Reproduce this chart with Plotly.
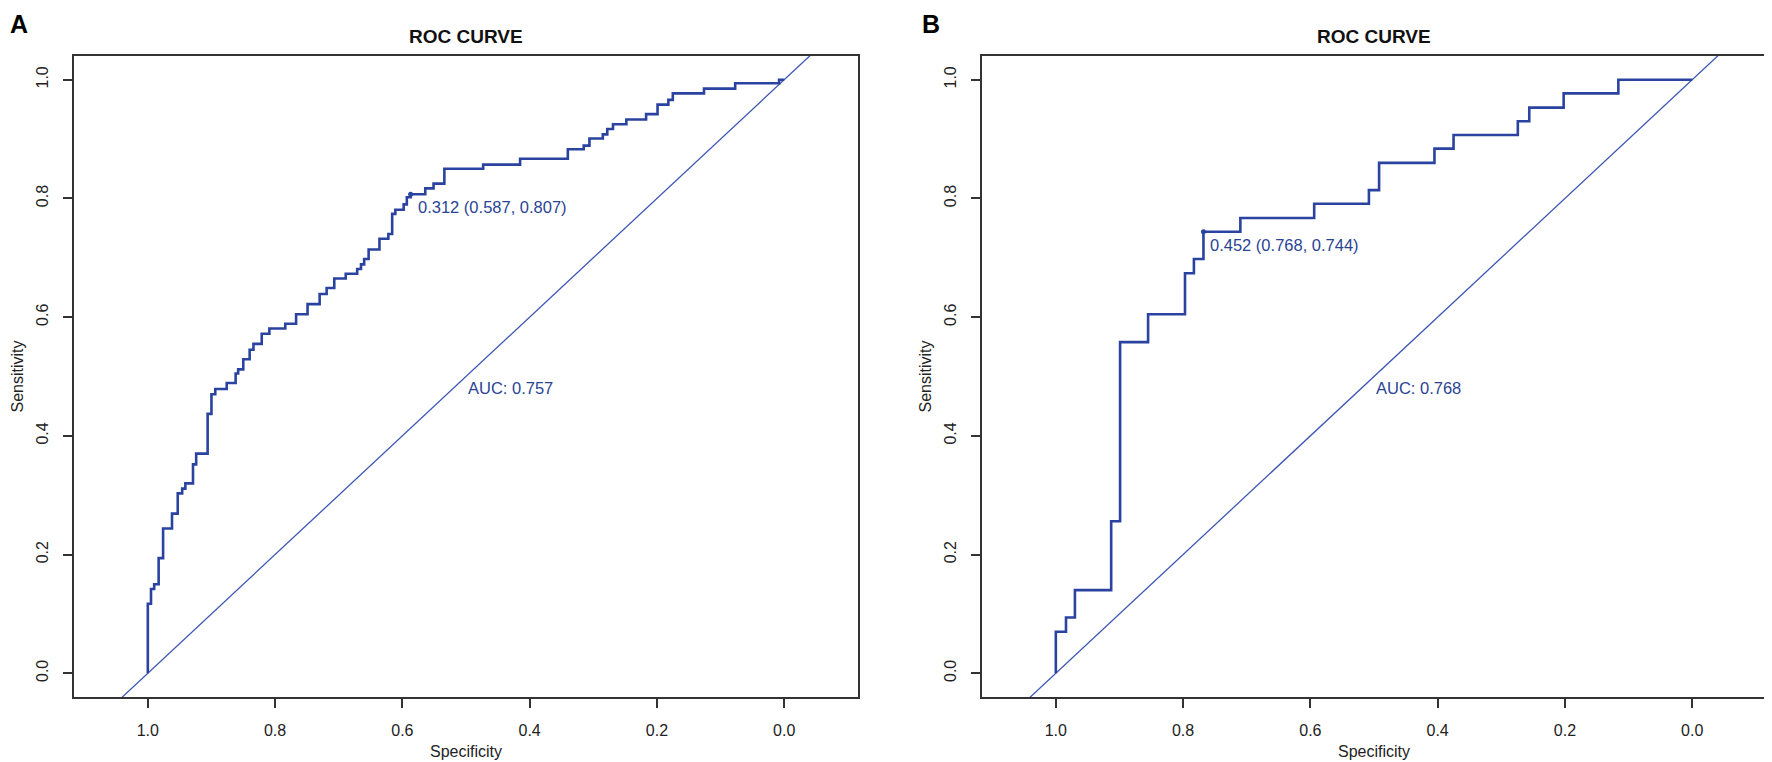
import plotly.graph_objects as go

# ROC curve A (step vertices: specificity where the curve rises, sensitivity after rise)
spec_a = [1.0, 1.0, 0.995, 0.990, 0.983, 0.976, 0.962, 0.953, 0.946, 0.941, 0.929, 0.924,
          0.906, 0.900, 0.894, 0.876, 0.862, 0.858, 0.850, 0.840, 0.834, 0.821, 0.809,
          0.784, 0.767, 0.749, 0.730, 0.719, 0.707, 0.689, 0.671, 0.665, 0.660, 0.653,
          0.636, 0.622, 0.616, 0.611, 0.598, 0.593, 0.587, 0.564, 0.551, 0.534, 0.473,
          0.415, 0.340, 0.315, 0.306, 0.285, 0.278, 0.269, 0.248, 0.217, 0.199, 0.182,
          0.175, 0.126, 0.077, 0.008, 0.0]
sens_a = [0.0, 0.117, 0.142, 0.150, 0.194, 0.244, 0.269, 0.303, 0.311, 0.320, 0.352, 0.370,
          0.437, 0.470, 0.479, 0.489, 0.505, 0.512, 0.529, 0.545, 0.555, 0.572, 0.581,
          0.589, 0.605, 0.622, 0.639, 0.649, 0.665, 0.673, 0.681, 0.689, 0.698, 0.714,
          0.732, 0.740, 0.774, 0.781, 0.790, 0.802, 0.807, 0.817, 0.825, 0.850, 0.857,
          0.867, 0.883, 0.889, 0.901, 0.908, 0.917, 0.925, 0.933, 0.942, 0.958, 0.966,
          0.977, 0.985, 0.994, 1.0, 1.0]

# ROC curve B
spec_b = [1.0, 1.0, 0.984, 0.970, 0.913, 0.899, 0.855, 0.797, 0.783, 0.768, 0.710, 0.594,
          0.508, 0.492, 0.405, 0.375, 0.274, 0.256, 0.202, 0.116, 0.0]
sens_b = [0.0, 0.070, 0.094, 0.140, 0.256, 0.558, 0.605, 0.674, 0.698, 0.744, 0.767, 0.791,
          0.814, 0.860, 0.884, 0.907, 0.930, 0.953, 0.977, 1.0, 1.0]

# best thresholds and AUC
thres = [0.312, 0.452]
thres_spec = [0.587, 0.768]
thres_sens = [0.807, 0.744]
auc = [0.757, 0.768]
panel_labels = ['A', 'B']
tick_vals = [0.0, 0.2, 0.4, 0.6, 0.8, 1.0]
tick_text = ['0.0', '0.2', '0.4', '0.6', '0.8', '1.0']

X_RANGE = [1.116, -0.116]
Y_RANGE = [-0.04, 1.04]
BLUE = '#2a43a0'
FONT = 'Liberation Sans, Arial, sans-serif'

# the page body has an 8px margin, so the figure is placed in page pixels minus that
OFF = 8
W, H = 1772 - OFF, 762 - OFF


def px(s):
    return (s - OFF) / W


def py(s):
    return 1 - (s - OFF) / H


x_domains = [[px(74), px(858)], [px(982), px(1766)]]
y_domain = [py(697), py(56)]

fig = go.Figure()
curves = [(spec_a, sens_a), (spec_b, sens_b)]


def paper_text(x, y, text, size, color='#222222', angle=0, xanchor='center', yanchor='middle'):
    fig.add_annotation(x=x, y=y, xref='paper', yref='paper', text=text, textangle=angle,
                       xanchor=xanchor, yanchor=yanchor, showarrow=False,
                       font=dict(family=FONT, size=size, color=color))


for i, (sp, se) in enumerate(curves):
    xa = 'x' if i == 0 else 'x2'
    ya = 'y' if i == 0 else 'y2'
    # chance line
    fig.add_trace(go.Scatter(x=X_RANGE, y=[1 - v for v in X_RANGE], mode='lines',
                             line=dict(color='#3d57b3', width=1.3),
                             xaxis=xa, yaxis=ya, hoverinfo='skip', showlegend=False))
    fig.add_trace(go.Scatter(x=sp, y=se, mode='lines', line_shape='hv',
                             line=dict(color=BLUE, width=2.6),
                             xaxis=xa, yaxis=ya, showlegend=False))
    fig.add_trace(go.Scatter(x=[thres_spec[i]], y=[thres_sens[i]], mode='markers',
                             marker=dict(color=BLUE, size=5),
                             xaxis=xa, yaxis=ya, showlegend=False))

    fig.add_annotation(x=thres_spec[i], y=thres_sens[i], xref=xa, yref=ya,
                       text='%.3f (%.3f, %.3f)' % (thres[i], thres_spec[i], thres_sens[i]),
                       showarrow=False, xanchor='left', yanchor='top', xshift=5, yshift=-2,
                       font=dict(family=FONT, size=16.5, color='#2a4494'))
    fig.add_annotation(x=0.5, y=0.5, xref=xa, yref=ya,
                       text='AUC: %.3f' % auc[i],
                       showarrow=False, xanchor='left', yanchor='top',
                       font=dict(family=FONT, size=16.5, color='#2a4494'))

    cx = (x_domains[i][0] + x_domains[i][1]) / 2
    left = [74, 982][i]
    paper_text(cx, py(37), '<b>ROC CURVE</b>', 19, '#111111')
    paper_text(cx, py(751), 'Specificity', 16)
    paper_text(px(left - 57), (y_domain[0] + y_domain[1]) / 2, 'Sensitivity', 16, angle=-90)
    paper_text(px([8, 920][i]), 1, '<b>%s</b>' % panel_labels[i], 25, '#000000',
               xanchor='left', yanchor='top')

axis_common = dict(showgrid=False, zeroline=False, showline=True, mirror=True,
                   linecolor='#333333', linewidth=2, ticks='outside', ticklen=9,
                   tickwidth=1.5, tickcolor='#333333', tickvals=tick_vals, ticktext=tick_text,
                   tickfont=dict(family=FONT, size=16, color='#222222'))

fig.update_layout(
    width=W, height=H,
    margin=dict(l=0, r=0, t=0, b=0),
    plot_bgcolor='white', paper_bgcolor='white',
    xaxis=dict(domain=x_domains[0], range=X_RANGE, anchor='y', ticklabelstandoff=9, **axis_common),
    yaxis=dict(domain=y_domain, range=Y_RANGE, anchor='x', tickangle=-90, ticklabelstandoff=9, **axis_common),
    xaxis2=dict(domain=x_domains[1], range=X_RANGE, anchor='y2', ticklabelstandoff=9, **axis_common),
    yaxis2=dict(domain=y_domain, range=Y_RANGE, anchor='x2', tickangle=-90, ticklabelstandoff=9, **axis_common),
)

fig.write_html("out.html")
